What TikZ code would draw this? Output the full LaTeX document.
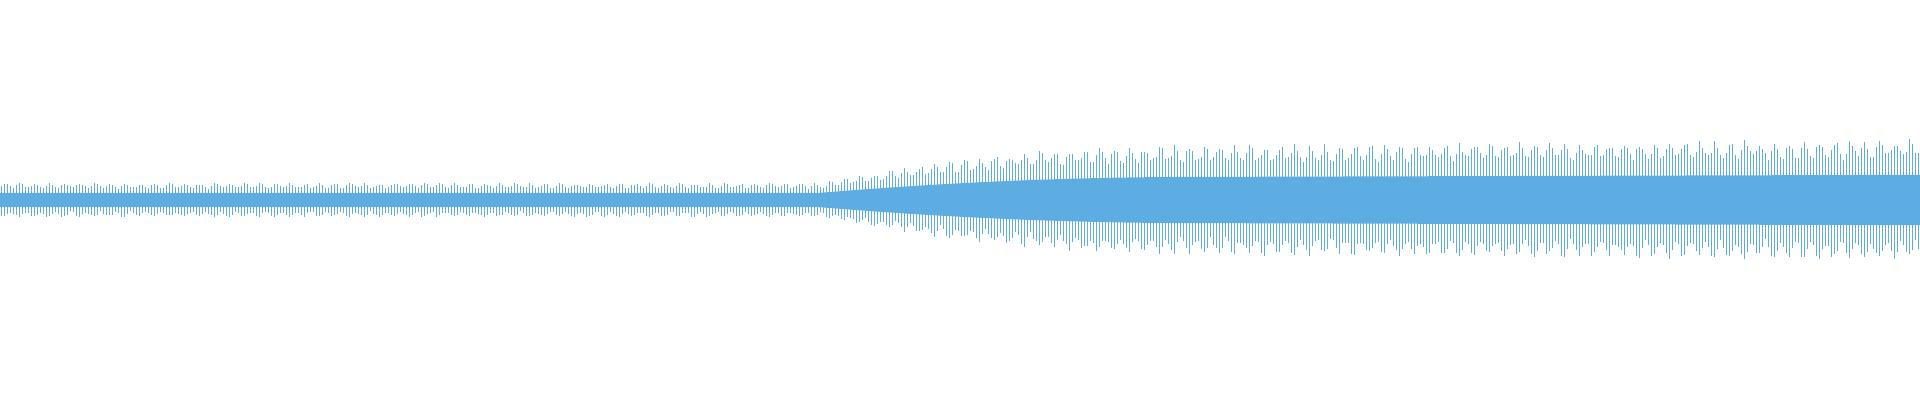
\documentclass[tikz,border=0pt]{standalone}
\definecolor{wave}{RGB}{93,173,226}
\begin{document}
\begin{tikzpicture}[x=1cm,y=1cm,
  declare function={tt(\x)=min(max((\x-8.2)/3.8,0),1);
    env(\x)=0.17+0.38*(1-(1-tt(\x))*(1-tt(\x)))+0.05*max(\x-12,0)/7.2;}]
\useasboundingbox (0,-2) rectangle (19.2,2);
\pgfmathsetseed{7}
\tikzset{wline/.style={fill=wave,draw=none}}
\fill[wave] plot[domain=0:19.2,samples=300,variable=\x] ({\x},{0.42*env(\x)})
  -- plot[domain=19.2:0,samples=300,variable=\x] ({\x},{-0.42*env(\x)}) -- cycle;
\foreach \i in {0,...,639}{
  \pgfmathsetmacro{\xx}{0.01+\i*0.03}
  \pgfmathsetmacro{\xr}{\xx+0.012}
  \pgfmathsetmacro{\ph}{mod(\i,5)*72}
  \pgfmathsetmacro{\en}{env(\xx)}
  \pgfmathsetmacro{\a}{\en*(0.84+0.12*sin(\ph)+0.06*rand)}
  \pgfmathsetmacro{\b}{\en*(0.84+0.12*sin(\ph+40)+0.06*rand)}
  \fill[wline] (\xx,-\b) rectangle (\xr,\a);
}
\end{tikzpicture}
\end{document}
